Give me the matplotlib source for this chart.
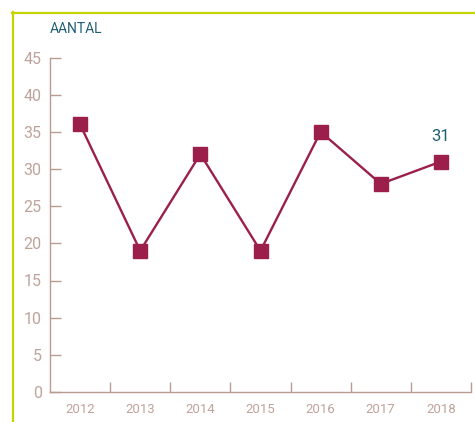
import numpy as np
import matplotlib.pyplot as plt
from matplotlib.lines import Line2D

years = ["2012", "2013", "2014", "2015", "2016", "2017", "2018"]
values = [36, 19, 32, 19, 35, 28, 31]
y_ticks = [0, 5, 10, 15, 20, 25, 30, 35, 40, 45]

line_color = "#9c1f4b"
axis_color = "#b99b92"
label_color = "#bfa39a"
title_color = "#1f5d72"
frame_color = "#c3d400"

plt.rcParams['font.family'] = ['Roboto', 'DejaVu Sans']

fig = plt.figure(figsize=(4.75, 4.22), dpi=100)
ax = fig.add_axes([50 / 475, 30 / 422, 421 / 475, 334.5 / 422])

x = np.arange(len(years))
ax.plot(x, values, color=line_color, linewidth=1.7, marker="s",
        markersize=9.5, markerfacecolor=line_color, markeredgecolor=line_color,
        clip_on=False)

ax.set_xlim(-0.5, len(years) - 0.5)
ax.set_ylim(0, 45)

ax.set_yticks(y_ticks)
ax.set_yticklabels([str(v) for v in y_ticks])
ax.set_xticks(x)
ax.set_xticklabels(years)
ax.set_xticks(np.arange(0.5, len(years), 1.0), minor=True)

ax.tick_params(axis="y", direction="in", length=8, width=1, color=axis_color,
               labelcolor=label_color, labelsize=11.5, pad=6)
ax.tick_params(axis="x", which="major", length=0, labelcolor=label_color,
               labelsize=9.5, pad=8)
ax.tick_params(axis="x", which="minor", direction="in", length=7, width=1,
               color=axis_color)

for side in ["top", "right"]:
    ax.spines[side].set_visible(False)
for side in ["left", "bottom"]:
    ax.spines[side].set_color(axis_color)
    ax.spines[side].set_linewidth(1)

ax.annotate(str(values[-1]), (x[-1], values[-1]), xytext=(0, 13),
            textcoords="offset points", ha="center", va="bottom",
            color=title_color, fontsize=12)

fig.text(50 / 475, 1 - 29 / 422, "AANTAL", color=title_color, fontsize=10,
         ha="left", va="center")

# green frame lines
fig.add_artist(Line2D([12.5 / 475, 12.5 / 475], [0, 1 - 12 / 422],
                      color=frame_color, linewidth=1.6))
fig.add_artist(Line2D([12 / 475, 1], [1 - 12.5 / 422, 1 - 12.5 / 422],
                      color=frame_color, linewidth=1.6))

fig.savefig("out.png", dpi=100)
